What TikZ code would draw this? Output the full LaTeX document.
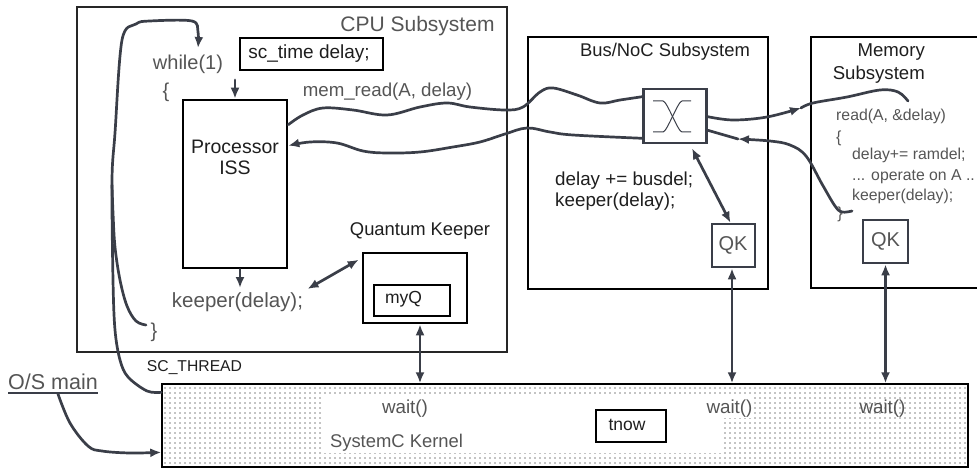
\documentclass[tikz,border=0pt]{standalone}
\usepackage{fontspec}
\setmainfont{Liberation Sans}
\usetikzlibrary{arrows.meta,patterns,calc}
\pgfdeclarepatternformonly{kdots}{\pgfqpoint{-1pt}{-1pt}}{\pgfqpoint{1pt}{1pt}}{\pgfqpoint{5pt}{5pt}}{\pgfpathcircle{\pgfqpoint{0pt}{0pt}}{0.6pt}\pgfusepath{fill}}
\definecolor{wirec}{RGB}{58,62,72}
\definecolor{txtg}{RGB}{85,85,85}
\definecolor{txtd}{RGB}{30,30,30}
\begin{document}
\begin{tikzpicture}[x=1pt,y=-1pt,
  box/.style={draw=black,line width=2.2pt,inner sep=0pt},
  thinbox/.style={draw=black,line width=1.5pt,inner sep=0pt},
  gbox/.style={draw=wirec,line width=2.6pt,inner sep=0pt},
  wire/.style={draw=wirec,line width=2.7pt,line cap=round,line join=round},
  arr/.style={wire,-{Latex[length=11pt,width=9pt]}},
  darr/.style={wire,{Latex[length=11pt,width=9pt]}-{Latex[length=11pt,width=9pt]}},
  lbl/.style={inner sep=0pt,text=txtg},
  dlbl/.style={inner sep=0pt,text=txtd},
]
\useasboundingbox (0,0) rectangle (977,468);

% ---------- kernel ----------
\node[draw=black,line width=1.4pt,pattern=kdots,pattern color=black,
      minimum width=806pt,minimum height=83pt,inner sep=0pt] (kernel) at (565,425.5) {};
\fill[white] (323,397) rectangle (724,453);
\fill[white] (724,397) rectangle (752,418);
\node[lbl,font=\fontsize{18.8}{22}\selectfont] (wait1) at (405,409) {wait()};
\node[lbl,font=\fontsize{18.8}{22}\selectfont] (wait2) at (729.5,409) {wait()};
\node[lbl,font=\fontsize{18.8}{22}\selectfont] (wait3) at (882.5,409) {wait()};
\node[lbl,font=\fontsize{18.4}{22}\selectfont] (sck) at (396.5,443) {SystemC Kernel};
\node[thinbox,fill=white,minimum width=70pt,minimum height=32pt] (tnowbox) at (631,426) {};
\node[dlbl,font=\fontsize{17.5}{21}\selectfont] (tnow) at (627,425) {tnow};

% ---------- CPU subsystem ----------
\node[draw=black!85,line width=2.2pt,inner sep=0pt,minimum width=430pt,minimum height=345pt] (cpu) at (292,179.5) {};
\node[lbl,font=\fontsize{21}{25}\selectfont] (cpulbl) at (417.5,26) {CPU Subsystem};
\node[thinbox,minimum width=143pt,minimum height=32pt] (sct) at (311.5,54) {};
\node[dlbl,font=\fontsize{19}{22}\selectfont] (sctt) at (309,54) {sc\_time delay;};
\node[lbl,font=\fontsize{20}{24}\selectfont] (while) at (188,64) {while(1)};
\node[lbl,font=\fontsize{20}{24}\selectfont] (ob1) at (166,92) {\{};
\node[draw=black,line width=2.6pt,inner sep=0pt,minimum width=104pt,minimum height=168pt] (iss) at (235,184) {};
\node[dlbl,font=\fontsize{19.5}{21}\selectfont,align=center] (isst) at (235,157) {Processor\\ISS};
\node[lbl,font=\fontsize{18.7}{22}\selectfont] (memread) at (387.5,92) {mem\_read(A, delay)};
\node[lbl,font=\fontsize{20.5}{24}\selectfont] (kp) at (237.5,302) {keeper(delay);};
\node[lbl,font=\fontsize{20}{24}\selectfont] (cb1) at (154,332) {\}};
\node[dlbl,font=\fontsize{18.4}{22}\selectfont] (qklbl) at (420,231) {Quantum Keeper};
\node[draw=black,line width=2.6pt,inner sep=0pt,minimum width=104pt,minimum height=70pt] (qk) at (415,288) {};
\node[thinbox,minimum width=76pt,minimum height=31pt] (myqbox) at (412,300.5) {};
\node[dlbl,font=\fontsize{17.5}{21}\selectfont] (myq) at (403.5,299) {myQ};

\coordinate (issin) at (235,80);
\coordinate (kpin) at (240,288);
\draw[arr] (issin) -- (iss.north);
\draw[arr] (iss.south -| kpin) -- (kpin);
\draw[darr] ([xshift=70pt,yshift=13pt]kp.center) -- ([xshift=-3pt,yshift=-8pt]qk.north west);

% ---------- Bus/NoC subsystem ----------
\node[box,minimum width=240pt,minimum height=252pt] (bus) at (648,163) {};
\node[dlbl,font=\fontsize{18.4}{22}\selectfont] (buslbl) at (665,52) {Bus/NoC Subsystem};
\node[gbox,minimum width=63pt,minimum height=54pt] (xbox) at (675,116) {};
\draw[wirec,line width=1pt] (653,101) -- (663,101) .. controls (667,101) and (678,132) .. (682,132) -- (691,132);
\draw[wirec,line width=1pt] (691,101) -- (682,101) .. controls (678,101) and (667,132) .. (663,132) -- (653,132);
\node[dlbl,font=\fontsize{18.8}{20.5}\selectfont,align=left,anchor=west] (busc) at (555,191) {delay += busdel;\\keeper(delay);};
\node[gbox,minimum width=43pt,minimum height=43pt] (qkb) at (733.5,245.5) {};
\node[lbl,font=\fontsize{20}{24}\selectfont] (qkbt) at (733,245.5) {QK};
\draw[darr] ([xshift=17pt,yshift=-4pt]xbox.south) -- ([xshift=-3pt]qkb.north);

% ---------- Memory subsystem ----------
\node[box,minimum width=170pt,minimum height=251pt] (mem) at (896,162.5) {};
\node[dlbl,font=\fontsize{18.6}{23}\selectfont,align=right,anchor=east] (memlbl) at (925,63.5) {Memory\\Subsystem};
\node[lbl,font=\fontsize{15.8}{19}\selectfont,anchor=west] (rd) at (836,116) {read(A, \&delay)};
\node[lbl,font=\fontsize{16}{19}\selectfont,anchor=west] (ob2) at (836,138) {\{};
\node[lbl,font=\fontsize{15.8}{20.8}\selectfont,align=left,anchor=west] (memc) at (852,176) {delay+= ramdel;\\... operate on A ..\\keeper(delay);};
\node[lbl,font=\fontsize{16}{19}\selectfont] (cb2) at (840,214) {\}};
\node[gbox,minimum width=45pt,minimum height=43pt] (qkm) at (885.5,241.5) {};
\node[lbl,font=\fontsize{20}{24}\selectfont] (qkmt) at (885.5,241.5) {QK};

% ---------- wires ----------
\draw[wire] plot[smooth,tension=0.6] coordinates {([yshift=-26pt]iss.north east) (303,115) (323,108) (353,110) (387,115) (420,107) (447,103) (470,107) (505,110) (523,107) (540,92) (553,88) (577,95) (600,103) (620,100) ([yshift=-9pt]xbox.north west)};
\draw[arr] plot[smooth,tension=0.6] coordinates {([yshift=6pt]xbox.south west) (573,135) (550,132) (527,128) (505,134) (480,142) (453,147) (420,152) (387,153) (363,151) (337,143) (310,142) ([yshift=-47pt]iss.north east)};
\coordinate (mtip) at (801,108);
\draw[arr] plot[smooth,tension=0.6] coordinates {([yshift=-29pt]xbox.north east) (733,120) (767,117) (mtip)};
\draw[wire] plot[smooth,tension=0.6] coordinates {(mtip) (813,103) (847,97) (880,90) (898,92) (908,101)};
\coordinate (rtip) at (738,139);
\draw[wire] ([yshift=14pt]xbox.south east) -- (rtip);
\draw[arr] plot[smooth,tension=0.6] coordinates {(852,211) (842,212) (835,206) (822,184) (806,156) (790,145) (770,141) (rtip)};

% ---------- thread loop ----------
\coordinate (loopend) at (198,48);
\draw[arr] plot[smooth,tension=0.55] coordinates {([yshift=-9pt]kernel.north west) (147,391) (128,377) (120,360) (115,330) (113,280) (112,180) (115,133) (122,40) (136,24) (150,21) (192,21) (198,32) (loopend)};
\coordinate (cbend) at (146,325);
\draw[wire] plot[smooth,tension=0.6] coordinates {(cbend) (136,321) (127,306) (120,280) (115,247) (113,213) (112,185)};
\node[inner sep=0pt,text=txtd,font=\fontsize{15.7}{19}\selectfont] (scth) at (194.5,368) {SC\_THREAD};

% ---------- O/S main ----------
\node[lbl,font=\fontsize{21.5}{25}\selectfont,anchor=west] (os) at (8,382) {O/S main};
\coordinate (ulev) at (0,393);
\draw[wirec,line width=1.6pt] (os.south west |- ulev) -- (os.south east |- ulev);
\coordinate (osst) at (58,394);
\draw[arr] plot[smooth,tension=0.6] coordinates {(osst) (70,423) (88,446) (102,451) (130,453) ([yshift=-69pt]kernel.north west)};

% ---------- kernel links ----------
\coordinate (qka) at ([xshift=5pt]qk.south);
\coordinate (qkba) at ([xshift=-1.5pt]qkb.south);
\draw[darr] (qka) -- (kernel.north -| qka);
\draw[darr] (qkba) -- (kernel.north -| qkba);
\draw[darr] (qkm.south) -- (kernel.north -| qkm.south);
\end{tikzpicture}
\end{document}
